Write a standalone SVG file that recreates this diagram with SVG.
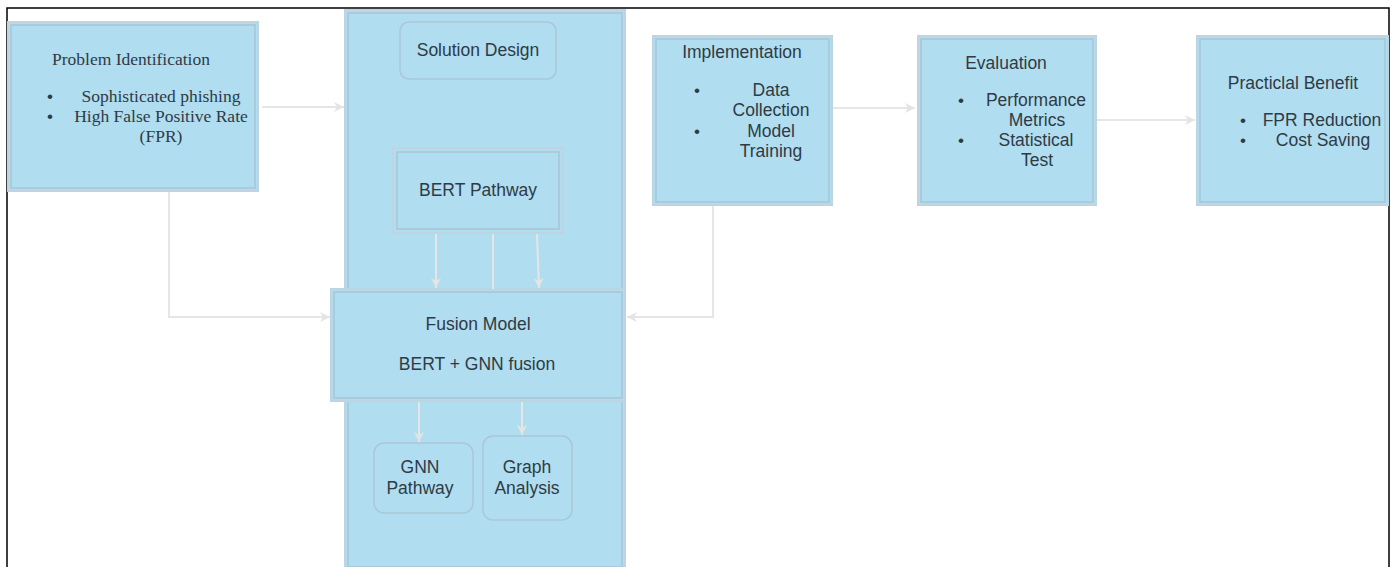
<svg xmlns="http://www.w3.org/2000/svg" width="1395" height="567" viewBox="0 0 1395 567">
  <defs>
    <marker id="arrow" viewBox="0 0 10 10" refX="10" refY="5" markerWidth="10" markerHeight="10" markerUnits="userSpaceOnUse" orient="auto">
      <path d="M0,0 L10,5 L0,10 L3,5 Z" fill="#e4e4e4"/>
    </marker>
    <style>
      .box { fill: #b1ddf0; stroke: #bed5e1; stroke-width: 2; }
      .inner { fill: none; stroke: #a7c5d5; stroke-width: 1.5; }
      .round { fill: #b1ddf0; stroke: #a9c7d6; stroke-width: 1.5; }
      .sans { font-family: "Liberation Sans", Arial, sans-serif; font-size: 17.5px; fill: #2e3b45; }
      .serif { font-family: "Liberation Serif", "Times New Roman", serif; font-size: 17.5px; fill: #2e3b45; }
      .dot { font-family: "Liberation Sans", Arial, sans-serif; font-size: 17px; fill: #2e3b45; }
      .mid { text-anchor: middle; }
      .link { fill: none; stroke: #e6e6e6; stroke-width: 2; }
      .frame { fill: none; stroke: #000; stroke-width: 1.5; }
    </style>
  </defs>

  <rect width="1395" height="567" fill="#fff"/>

  <!-- outer frame -->
  <path class="frame" d="M7,567 V8 H1389 V567"/>

  <!-- solution column (background container) -->
  <g id="solution-column">
    <rect class="box" x="345" y="10" width="280" height="557"/>
    <rect class="inner" x="348" y="13" width="274" height="554"/>
  </g>

  <!-- problem identification -->
  <g id="problem">
    <rect class="box" x="8" y="22" width="250" height="169"/>
    <rect class="inner" x="11" y="25" width="244" height="163"/>
    <text class="serif" x="52" y="65">Problem Identification</text>
    <text class="dot" x="47" y="102">•</text>
    <text class="serif mid" x="161" y="102">Sophisticated phishing</text>
    <text class="dot" x="47" y="122">•</text>
    <text class="serif mid" x="161" y="122">High False Positive Rate</text>
    <text class="serif mid" x="161" y="142">(FPR)</text>
  </g>

  <g id="solution-design">
    <rect class="round" x="400" y="22" width="156" height="57" rx="9"/>
    <text class="sans mid" x="478" y="56">Solution Design</text>
  </g>

  <g id="bert-pathway">
    <rect class="box" x="393" y="148" width="170" height="85"/>
    <rect class="inner" x="397" y="152" width="162" height="77"/>
    <text class="sans mid" x="478" y="196">BERT Pathway</text>
  </g>

  <g id="fusion-model">
    <rect class="box" x="331" y="289" width="294" height="112"/>
    <rect class="inner" x="334" y="292" width="288" height="106"/>
    <text class="sans mid" x="478" y="330">Fusion Model</text>
    <text class="sans mid" x="477" y="370">BERT + GNN fusion</text>
  </g>

  <g id="gnn-pathway">
    <rect class="round" x="374" y="443" width="99" height="70" rx="10"/>
    <text class="sans mid" x="420" y="473">GNN</text>
    <text class="sans mid" x="420" y="494">Pathway</text>
  </g>

  <g id="graph-analysis">
    <rect class="round" x="483" y="436" width="89" height="84" rx="10"/>
    <text class="sans mid" x="527" y="473">Graph</text>
    <text class="sans mid" x="527" y="494">Analysis</text>
  </g>

  <g id="implementation">
    <rect class="box" x="653" y="36" width="179" height="169"/>
    <rect class="inner" x="656" y="39" width="173" height="163"/>
    <text class="sans mid" x="742" y="58">Implementation</text>
    <text class="dot" x="694" y="96">•</text>
    <text class="sans mid" x="771" y="96">Data</text>
    <text class="sans mid" x="771" y="116">Collection</text>
    <text class="dot" x="694" y="137">•</text>
    <text class="sans mid" x="771" y="137">Model</text>
    <text class="sans mid" x="771" y="157">Training</text>
  </g>

  <g id="evaluation">
    <rect class="box" x="918" y="36" width="178" height="169"/>
    <rect class="inner" x="921" y="39" width="172" height="163"/>
    <text class="sans mid" x="1006" y="69">Evaluation</text>
    <text class="dot" x="958" y="106">•</text>
    <text class="sans mid" x="1036" y="106">Performance</text>
    <text class="sans mid" x="1037" y="126">Metrics</text>
    <text class="dot" x="958" y="146">•</text>
    <text class="sans mid" x="1036" y="146">Statistical</text>
    <text class="sans mid" x="1037" y="166">Test</text>
  </g>

  <g id="practical-benefit">
    <rect class="box" x="1197" y="36" width="191" height="169"/>
    <rect class="inner" x="1200" y="39" width="185" height="163"/>
    <text class="sans mid" x="1293" y="89">Practiclal Benefit</text>
    <text class="dot" x="1240" y="126">•</text>
    <text class="sans mid" x="1322" y="126">FPR Reduction</text>
    <text class="dot" x="1240" y="146">•</text>
    <text class="sans mid" x="1323" y="146">Cost Saving</text>
  </g>

  <!-- connectors -->
  <g id="connectors">
    <path class="link" d="M262,107 H344" marker-end="url(#arrow)"/>
    <path class="link" d="M169,192 V317 H330" marker-end="url(#arrow)"/>
    <path class="link" d="M713,206 V317 H627" marker-end="url(#arrow)"/>
    <path class="link" d="M436,234 V288" marker-end="url(#arrow)"/>
    <path class="link" d="M493,234 V289"/>
    <path class="link" d="M537,234 L539,288" marker-end="url(#arrow)"/>
    <path class="link" d="M419,402 V442" marker-end="url(#arrow)"/>
    <path class="link" d="M522,402 V435" marker-end="url(#arrow)"/>
    <path class="link" d="M833,108 H915" marker-end="url(#arrow)"/>
    <path class="link" d="M1097,120 H1195" marker-end="url(#arrow)"/>
  </g>
</svg>
